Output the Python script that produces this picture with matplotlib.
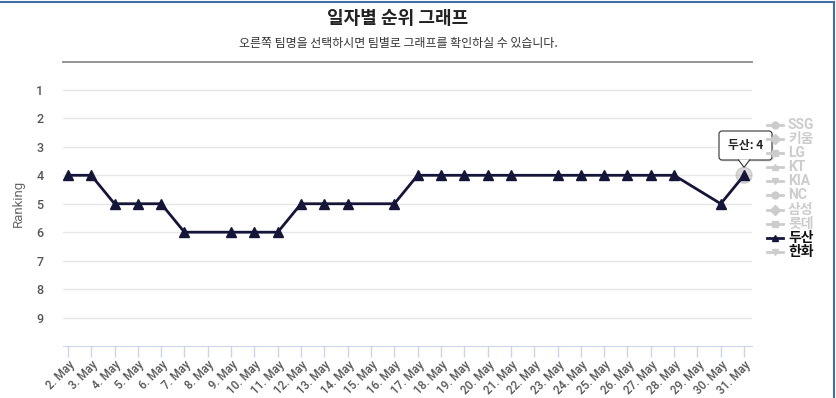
import matplotlib
matplotlib.use("Agg")
import matplotlib.pyplot as plt
import numpy as np
from matplotlib.lines import Line2D
from matplotlib.patches import FancyBboxPatch, Polygon, Circle

plt.rcParams['font.family'] = ['Roboto', 'Noto Sans CJK KR', 'DejaVu Sans']

# data
days = list(range(2, 32))
day_labels = ["%d. May" % d for d in days]
# 두산 ranking per day, None = no game
doosan = [4, 4, 5, 5, 5, 6, None, 6, 6, 6, 5, 5, 5, None, 5,
          4, 4, 4, 4, 4, None, 4, 4, 4, 4, 4, 4, None, 5, 4]
teams = ["SSG", "키움", "LG", "KT", "KIA", "NC", "삼성", "롯데", "두산", "한화"]
team_markers = ["o", "D", "s", "^", "v", "o", "D", "s", "^", "v"]
active_team = "두산"
hover_team = "한화"
rank_ticks = list(range(1, 10))

line_col = "#15153a"
grey = "#cccccc"

fig = plt.figure(figsize=(8.37, 3.98), dpi=100)
W, H = 837, 398
ax = fig.add_axes([63 / W, 52 / H, 689 / W, 284.5 / H])

x = np.arange(len(days))
y = np.array([np.nan if v is None else v for v in doosan], dtype=float)
ok = ~np.isnan(y)
ax.plot(x[ok], y[ok], color=line_col, lw=2, marker="^", ms=6.5, zorder=3)

ax.set_xlim(-0.21, 29.34)
ax.set_ylim(10, 0)
ax.set_yticks(rank_ticks)
ax.set_yticklabels([str(r) for r in rank_ticks], fontweight="medium")
ax.tick_params(axis="y", length=0, pad=14, labelsize=9, labelcolor="#555555")
ax.grid(axis="y", color="#e6e6e6", lw=1)
ax.set_axisbelow(True)

ax.set_xticks(x)
ax.set_xticklabels(day_labels, rotation=45, ha="right", rotation_mode="anchor",
                   fontweight="medium")
ax.tick_params(axis="x", length=8, width=1, color="#ccd6eb", pad=1,
               labelsize=8.3, labelcolor="#555555")

for s in ["left", "right"]:
    ax.spines[s].set_visible(False)
ax.spines["bottom"].set_color("#ccd6eb")
ax.spines["top"].set_color("#8a8a8a")
ax.spines["top"].set_linewidth(1.3)

ax.set_ylabel("Ranking", color="#666666", fontsize=9.5, labelpad=8)

# title
fig.text(398 / W, 1 - 18 / H, "일자별 순위 그래프", ha="center", va="center",
         fontsize=13, fontweight="bold", color="#222222", family=["Noto Sans CJK KR"])
fig.text(398 / W, 1 - 43 / H, "오른쪽 팀명을 선택하시면 팀별로 그래프를 확인하실 수 있습니다.",
         ha="center", va="center", fontsize=8.6, fontweight="medium", color="#333333",
         family=["Noto Sans CJK KR"])

# legend
for i, (t, m) in enumerate(zip(teams, team_markers)):
    yy = 1 - (125 + i * 14.1) / H
    col = line_col if t == active_team else grey
    fig.add_artist(Line2D([767 / W, 783 / W], [yy, yy], color=col, lw=2,
                          transform=fig.transFigure))
    fig.add_artist(Line2D([775 / W], [yy], color=col, marker=m, ms=5,
                          transform=fig.transFigure))
    tcol = "#111111" if t in (active_team, hover_team) else grey
    fig.text(788 / W, yy, t, ha="left", va="center", fontsize=10,
             fontweight="bold", color=tcol,
             family=["Roboto", "Noto Sans CJK KR"])

# hover halo and tooltip on last point
lx, ly = x[-1], y[-1]
px, py = ax.transData.transform((lx, ly))
ax.add_patch(Circle((px, py), 8, transform=None, color="#999999",
                    alpha=0.35, zorder=2, clip_on=False))
bx0, by0, bw, bh = 719, H - 160, 53, 29
fig.add_artist(FancyBboxPatch((bx0 + 1.5, by0 - 1.5), bw, bh, boxstyle="round,pad=0,rounding_size=3",
                              transform=None, fc="#000000", ec="none", alpha=0.12))
fig.add_artist(FancyBboxPatch((bx0, by0), bw, bh, boxstyle="round,pad=0,rounding_size=3",
                              transform=None, fc="white", ec="#333333", lw=0.8))
fig.add_artist(Polygon([(px - 6, by0 + 0.6), (px, py + 8), (px + 6, by0 + 0.6)],
                       closed=False, transform=None, fc="white", ec="#333333", lw=0.8))
fig.text((bx0 + bw / 2) / W, (by0 + bh / 2) / H, "%s: %d" % (active_team, ly),
         ha="center", va="center", fontsize=8.5, fontweight="bold",
         color="#222222", family=["Noto Sans CJK KR"])

# outer frame (top and right)
fig.add_artist(Line2D([0, 834 / W], [1 - 1.5 / H, 1 - 1.5 / H], color="#3f6fa5", lw=1.5,
                      transform=fig.transFigure))
fig.add_artist(Line2D([834 / W, 834 / W], [0, 1 - 1.5 / H], color="#3f6fa5", lw=1.5,
                      transform=fig.transFigure))

fig.savefig("out.png", dpi=100)
